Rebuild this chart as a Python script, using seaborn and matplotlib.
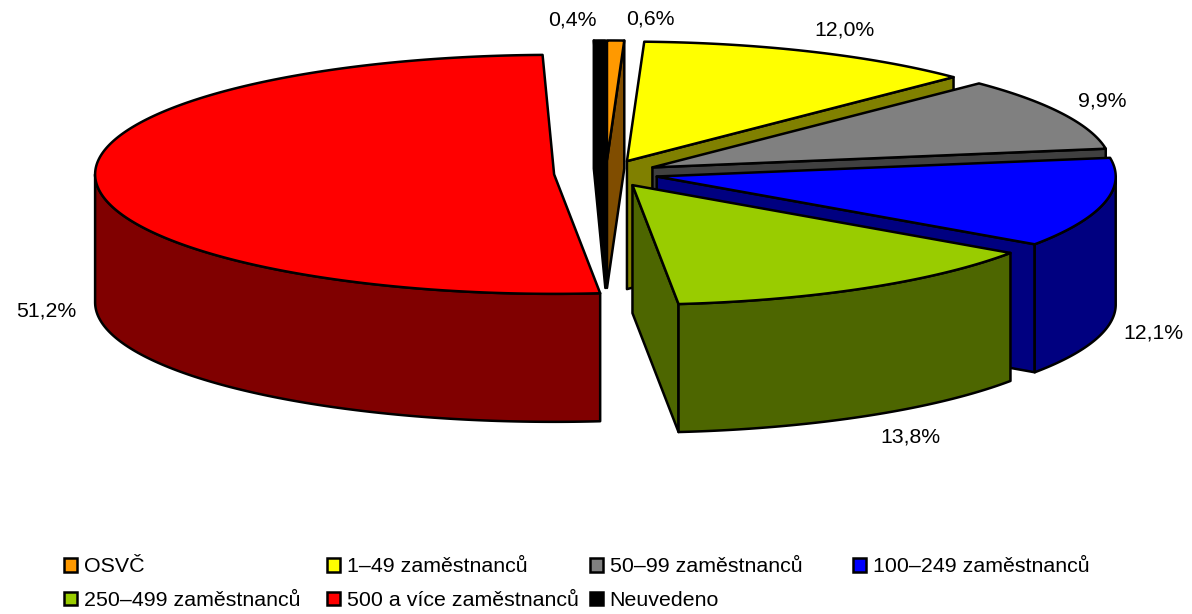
"""
Koláčový 3D graf : podíl podle velikosti zaměstnavatele.
"""

import numpy as np
import seaborn as sns
import matplotlib.pyplot as plt
from matplotlib.patches import Patch

categories = [
    "OSVČ",
    "1–49 zaměstnanců",
    "50–99 zaměstnanců",
    "100–249 zaměstnanců",
    "250–499 zaměstnanců",
    "500 a více zaměstnanců",
    "Neuvedeno",
]
values = [0.6, 12.0, 9.9, 12.1, 13.8, 51.2, 0.4]
colors = ["#FF9900", "#FFFF00", "#808080", "#0000FF", "#99CC00", "#FF0000", "#000000"]

# vzhled : pixely referenčního obrázku
CX, CY = 606, 173.5
RX, RY = 459, 119.5
DEPTH = 128
EXPLODE = 52
EDGE = 1.8
LABEL_POS = [(650, 19), (845, 30), (1102, 101), (1153, 333), (910, 437), (46, 311), (572, 20)]
DRAW_ORDER = [6, 0, 1, 2, 3, 4, 5]

sns.set_theme(style="white")
plt.rcParams["font.family"] = ["Liberation Sans", "DejaVu Sans"]
palette = sns.color_palette(colors)

fig, ax = plt.subplots(figsize=(11.92, 6.14), dpi=100)
ax.set_position([0, 0, 1, 1])
ax.set_xlim(0, 1192)
ax.set_ylim(614, 0)
ax.axis("off")

edges = np.concatenate([[0], np.cumsum(values)]) / np.sum(values) * 360


def rim(apex, angles):
    rad = np.radians(angles)
    return np.column_stack([apex[0] + RX * np.sin(rad), apex[1] - RY * np.cos(rad)])


def draw_shape(points, color):
    ax.fill(points[:, 0], points[:, 1], facecolor=color, edgecolor="black",
            linewidth=EDGE, joinstyle="round")


def draw_wedge(start, end, color):
    mid = np.radians((start + end) / 2)
    apex = np.array([CX + EXPLODE * np.sin(mid), CY - EXPLODE * np.cos(mid) * RY / RX])
    down = np.array([0, DEPTH])
    dark = tuple(np.array(color) * 0.5)

    # stěny řezu viditelné zepředu
    for angle, visible in ((end, np.sin(np.radians(end)) > 0), (start, np.sin(np.radians(start)) < 0)):
        if visible:
            outer = rim(apex, [angle])[0]
            draw_shape(np.array([apex, outer, outer + down, apex + down]), dark)

    # vnější plášť (jen přední půlka elipsy)
    low, high = max(start, 90), min(end, 270)
    if low < high:
        arc = rim(apex, np.linspace(low, high, 120))
        draw_shape(np.vstack([arc, arc[::-1] + down]), dark)

    # horní plocha
    arc = rim(apex, np.linspace(start, end, 200))
    draw_shape(np.vstack([apex, arc]), color)


for i in DRAW_ORDER:
    draw_wedge(edges[i], edges[i + 1], palette[i])

for value, (x, y) in zip(values, LABEL_POS):
    ax.text(x, y, f"{value:.1f}%".replace(".", ","), ha="center", va="center",
            fontsize=15.3, color="black")

# legenda : čtyři sloupce s pevným krokem
for col in range(4):
    idx = [i for i in (col, col + 4) if i < len(categories)]
    handles = [Patch(facecolor=palette[i], edgecolor="black", linewidth=EDGE) for i in idx]
    leg = ax.legend(
        handles,
        [categories[i] for i in idx],
        loc="upper left",
        bbox_to_anchor=(63.5 + 263 * col, 557.5),
        bbox_transform=ax.transData,
        frameon=False,
        fontsize=15.4,
        borderpad=0,
        borderaxespad=0,
        handlelength=0.62,
        handleheight=0.62,
        handletextpad=0.32,
        labelspacing=0.68,
        labelcolor="black",
    )
    ax.add_artist(leg)
    ax.legend_ = None

fig.savefig("out.png", dpi=100)
